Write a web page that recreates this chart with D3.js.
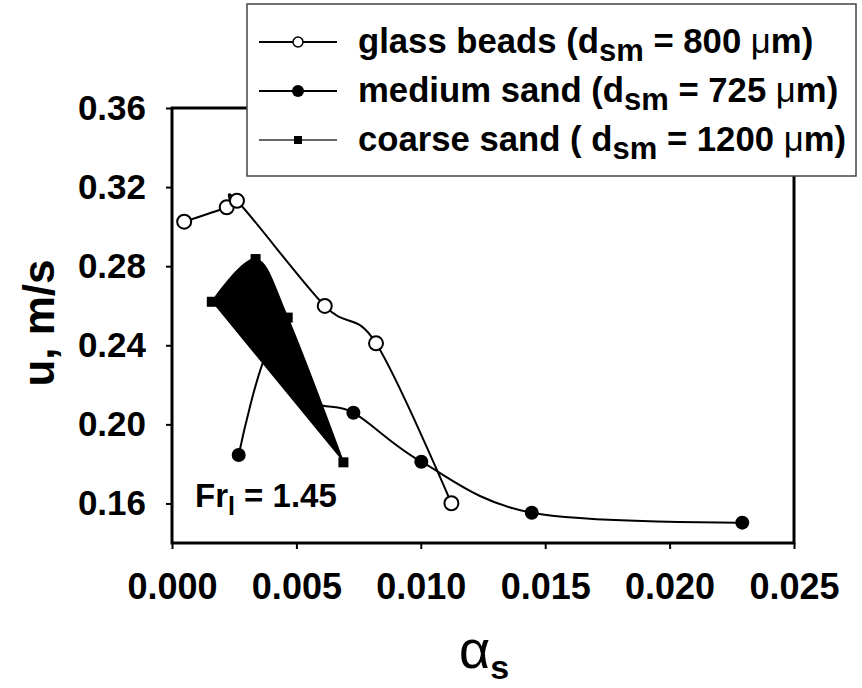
<!DOCTYPE html>
<html lang="en">
<head>
<meta charset="utf-8">
<title>u vs alpha_s</title>
<script src="https://d3js.org/d3.v7.min.js"></script>
<style>
  body { margin: 0; background: #fff; }
  svg text { font-family: "Liberation Sans", Arial, sans-serif; font-weight: bold; fill: #000; }
  .axis path { display: none; }
  .axis line { stroke: #000; stroke-width: 2; }
</style>
</head>
<body>
<script>
// values (two medium sand points sit under the black fill)
var glassX  = [0.00049, 0.0022, 0.00261, 0.00614, 0.0082, 0.01123];
var glassY  = [0.3025, 0.3098, 0.3131, 0.2599, 0.2410, 0.1601];
var mediumX = [0.00268, 0.00402, 0.00563, 0.00729, 0.01002, 0.01446, 0.02292];
var mediumY = [0.1845, 0.2401, 0.2123, 0.2059, 0.1811, 0.1553, 0.1503];
var coarseX = [0.0016, 0.00336, 0.00465, 0.00689];
var coarseY = [0.2620, 0.2836, 0.2540, 0.1808];

var xTicks = [0, 0.005, 0.010, 0.015, 0.020, 0.025];
var yTicks = [0.16, 0.20, 0.24, 0.28, 0.32, 0.36];

var legendNames = ["glass beads (d", "medium sand (d", "coarse sand ( d"];
var legendSizes = ["800", "725", "1200"];

var width = 862, height = 688;
var pLeft = 172, pRight = 794, pTop = 108, pBottom = 543;

var x = d3.scaleLinear().domain([0, 0.025]).range([pLeft, pRight]);
var y = d3.scaleLinear().domain([0.14, 0.36]).range([pBottom, pTop]);

var svg = d3.select("body").append("svg")
  .attr("width", width)
  .attr("height", height);

function pts(xs, ys) {
  return xs.map(function (d, i) { return [d, ys[i]]; });
}
var glass = pts(glassX, glassY),
    medium = pts(mediumX, mediumY),
    coarse = pts(coarseX, coarseY);

var line = d3.line()
  .x(function (d) { return x(d[0]); })
  .y(function (d) { return y(d[1]); })
  .curve(d3.curveCardinal.tension(0));

// axes
svg.append("g").attr("class", "axis")
  .attr("transform", "translate(0," + pBottom + ")")
  .call(d3.axisBottom(x).tickValues(xTicks).tickSize(6).tickPadding(24)
    .tickFormat(d3.format(".3f")))
  .selectAll("text").style("font-size", "36px");

svg.append("g").attr("class", "axis")
  .attr("transform", "translate(" + pLeft + ",0)")
  .call(d3.axisLeft(y).tickValues(yTicks)
    .tickSize(6).tickPadding(20).tickFormat(d3.format(".2f")))
  .selectAll("text").style("font-size", "35px");

svg.append("path")
  .attr("d", line(medium))
  .attr("fill", "none")
  .attr("stroke", "#000")
  .attr("stroke-width", 2);

svg.selectAll(".med").data(medium).enter().append("circle")
  .attr("cx", function (d) { return x(d[0]); })
  .attr("cy", function (d) { return y(d[1]); })
  .attr("r", 7)
  .attr("fill", "#000");

// coarse sand: the smoothed line drawn filled
svg.append("path")
  .attr("d", line(coarse))
  .attr("fill", "#000")
  .attr("stroke", "#000")
  .attr("stroke-width", 1.5);

svg.selectAll(".sq").data(coarse).enter().append("rect")
  .attr("x", function (d) { return x(d[0]) - 5; })
  .attr("y", function (d) { return y(d[1]) - 5; })
  .attr("width", 10).attr("height", 10)
  .attr("fill", "#000");

svg.append("path")
  .attr("d", line(glass))
  .attr("fill", "none")
  .attr("stroke", "#000")
  .attr("stroke-width", 2);

svg.selectAll(".gl").data(glass).enter().append("circle")
  .attr("cx", function (d) { return x(d[0]); })
  .attr("cy", function (d) { return y(d[1]); })
  .attr("r", 7)
  .attr("fill", "#fff")
  .attr("stroke", "#000")
  .attr("stroke-width", 2);

// frame
svg.append("rect")
  .attr("x", pLeft).attr("y", pTop)
  .attr("width", pRight - pLeft).attr("height", pBottom - pTop)
  .attr("fill", "none").attr("stroke", "#000").attr("stroke-width", 3);

// Fr label
var fr = svg.append("text").attr("x", 195).attr("y", 507).style("font-size", "33px");
fr.append("tspan").text("Fr");
fr.append("tspan").attr("dy", 8).style("font-size", "25px").text("l");
fr.append("tspan").attr("dy", -8).text(" = 1.45");

// axis titles
svg.append("text")
  .attr("transform", "translate(54,323) rotate(-90)")
  .attr("text-anchor", "middle")
  .style("font-size", "44px")
  .text("u, m/s");

var xt = svg.append("text").attr("x", 459).attr("y", 668);
xt.append("tspan").style("font-size", "54px").style("font-weight", "normal").text("α");
xt.append("tspan").attr("dy", 11).style("font-size", "34px").text("s");

// legend
var lg = svg.append("g");
lg.append("rect")
  .attr("x", 247).attr("y", 4).attr("width", 609).attr("height", 172)
  .attr("fill", "#fff").attr("stroke", "#444").attr("stroke-width", 1.5);

var rowY = [42, 91, 140];
legendNames.forEach(function (name, i) {
  var cy = rowY[i];
  lg.append("line")
    .attr("x1", 259).attr("x2", 337).attr("y1", cy).attr("y2", cy)
    .attr("stroke", i === 2 ? "#333" : "#000")
    .attr("stroke-width", i === 2 ? 1.5 : 2);
  if (i === 0) {
    lg.append("circle").attr("cx", 298).attr("cy", cy).attr("r", 5)
      .attr("fill", "#fff").attr("stroke", "#000").attr("stroke-width", 1.5);
  } else if (i === 1) {
    lg.append("circle").attr("cx", 298).attr("cy", cy).attr("r", 6).attr("fill", "#000");
  } else {
    lg.append("rect").attr("x", 294).attr("y", cy - 4).attr("width", 8).attr("height", 8)
      .attr("fill", "#000");
  }
  var t = lg.append("text").attr("x", 358).attr("y", cy + 11).style("font-size", "34.7px");
  t.append("tspan").text(name);
  t.append("tspan").attr("dy", 8).style("font-size", "31px").text("sm");
  t.append("tspan").attr("dy", -8).text(" = " + legendSizes[i] + " ");
  t.append("tspan").style("font-weight", "normal").text("μ");
  t.append("tspan").text("m)");
});
</script>
</body>
</html>
